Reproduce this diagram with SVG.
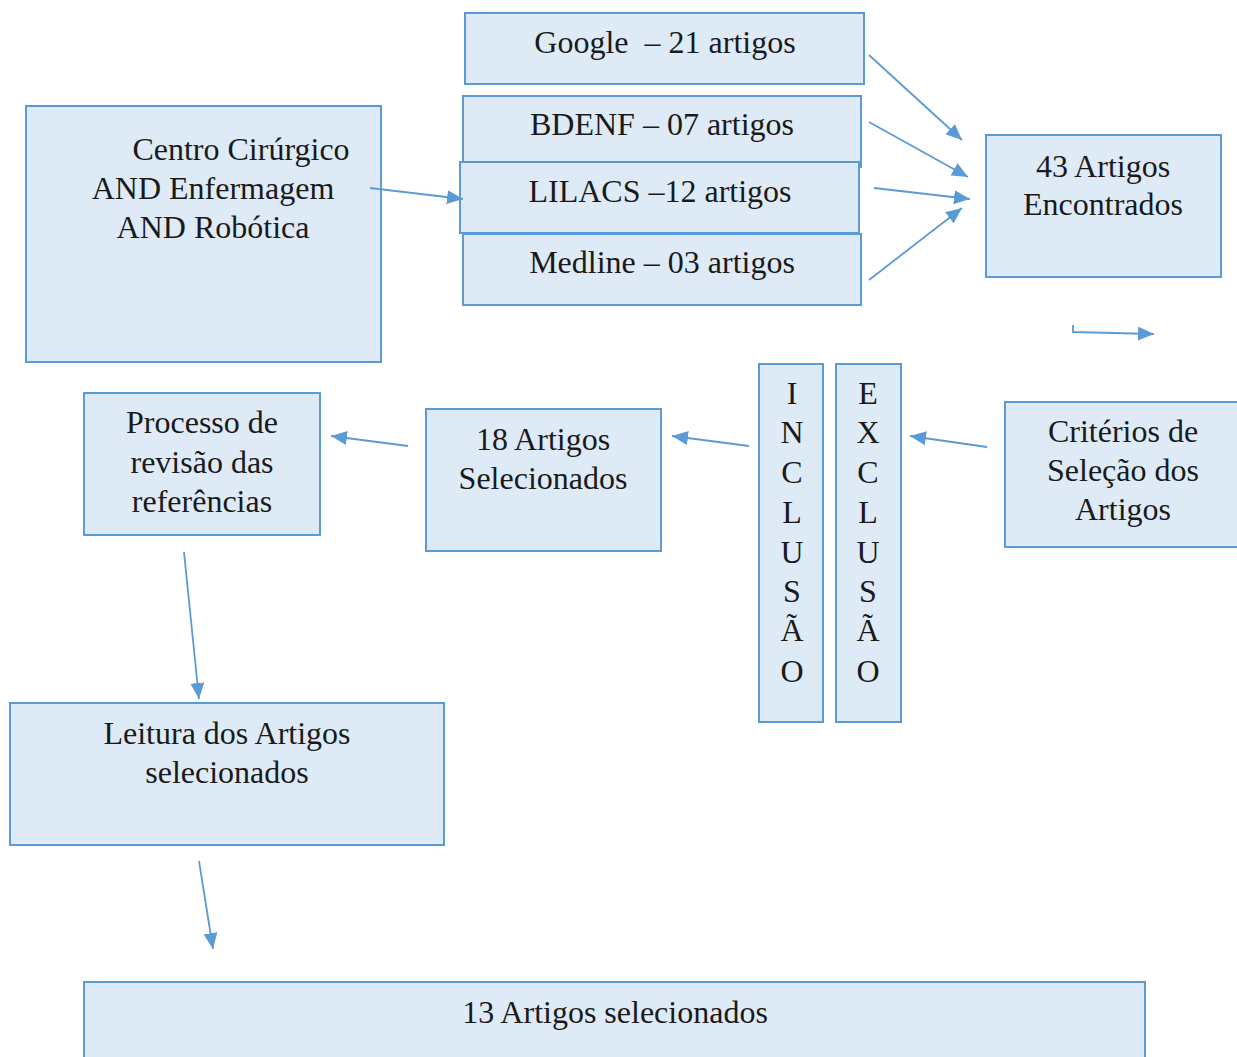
<svg xmlns="http://www.w3.org/2000/svg" width="1237" height="1057" viewBox="0 0 1237 1057">
<style>
.box{fill:#deeaf6;stroke:#5b9bd5;stroke-width:2}
.t{font-family:"Liberation Serif","Times New Roman",serif;font-size:32px;fill:#1a1a1a;text-anchor:middle}
.c{fill:none;stroke:#5b9bd5;stroke-width:1.8}
</style>
<defs>
<marker id="ah" viewBox="0 0 16 14" refX="16" refY="7" markerWidth="16" markerHeight="14" markerUnits="userSpaceOnUse" orient="auto">
<path d="M0,0 L16,7 L0,14 Z" fill="#5b9bd5"/>
</marker>
</defs>
<rect width="1237" height="1057" fill="#ffffff"/>
<g id="google"><rect class="box" x="465" y="13" width="399" height="71"/><text class="t" x="665" y="53" xml:space="preserve">Google  – 21 artigos</text></g>
<g id="bdenf"><rect class="box" x="463" y="96" width="398" height="71"/><text class="t" x="662" y="135">BDENF – 07 artigos</text></g>
<g id="lilacs"><rect class="box" x="460" y="162" width="399" height="71"/><text class="t" x="660" y="202">LILACS –12 artigos</text></g>
<g id="medline"><rect class="box" x="463" y="234" width="398" height="71"/><text class="t" x="662" y="273">Medline – 03 artigos</text></g>
<g id="centro"><rect class="box" x="26" y="106" width="355" height="256"/>
<text class="t" x="241" y="160">Centro Cirúrgico</text>
<text class="t" x="213" y="199">AND Enfermagem</text>
<text class="t" x="213" y="238">AND Robótica</text></g>
<g id="encontrados"><rect class="box" x="986" y="135" width="235" height="142"/>
<text class="t" x="1103" y="177">43 Artigos</text>
<text class="t" x="1103" y="215">Encontrados</text></g>
<g id="criterios"><rect class="box" x="1005" y="402" width="240" height="145"/>
<text class="t" x="1123" y="442">Critérios de</text>
<text class="t" x="1123" y="481">Seleção dos</text>
<text class="t" x="1123" y="520">Artigos</text></g>
<g id="exclusao"><rect class="box" x="836" y="364" width="65" height="358"/>
<text class="t" x="868" y="404">E</text><text class="t" x="868" y="443">X</text><text class="t" x="868" y="483">C</text><text class="t" x="868" y="523">L</text><text class="t" x="868" y="563">U</text><text class="t" x="868" y="602">S</text><text class="t" x="868" y="641">Ã</text><text class="t" x="868" y="682">O</text></g>
<g id="inclusao"><rect class="box" x="759" y="364" width="64" height="358"/>
<text class="t" x="792" y="404">I</text><text class="t" x="792" y="443">N</text><text class="t" x="792" y="483">C</text><text class="t" x="792" y="523">L</text><text class="t" x="792" y="563">U</text><text class="t" x="792" y="602">S</text><text class="t" x="792" y="641">Ã</text><text class="t" x="792" y="682">O</text></g>
<g id="selecionados18"><rect class="box" x="426" y="409" width="235" height="142"/>
<text class="t" x="543" y="450">18 Artigos</text>
<text class="t" x="543" y="489">Selecionados</text></g>
<g id="processo"><rect class="box" x="84" y="393" width="236" height="142"/>
<text class="t" x="202" y="433">Processo de</text>
<text class="t" x="202" y="473">revisão das</text>
<text class="t" x="202" y="512">referências</text></g>
<g id="leitura"><rect class="box" x="10" y="703" width="434" height="142"/>
<text class="t" x="227" y="744">Leitura dos Artigos</text>
<text class="t" x="227" y="783">selecionados</text></g>
<g id="final13"><rect class="box" x="84" y="982" width="1061" height="90"/>
<text class="t" x="615" y="1023">13 Artigos selecionados</text></g>
<g id="connectors">
<line class="c" x1="370" y1="188" x2="463" y2="199" marker-end="url(#ah)"/>
<line class="c" x1="869" y1="55" x2="962" y2="140" marker-end="url(#ah)"/>
<line class="c" x1="869" y1="122" x2="968" y2="177" marker-end="url(#ah)"/>
<line class="c" x1="874" y1="188" x2="970" y2="199" marker-end="url(#ah)"/>
<line class="c" x1="869" y1="280" x2="962" y2="208" marker-end="url(#ah)"/>
<polyline class="c" points="1073,325 1073,332 1154,334" marker-end="url(#ah)"/>
<line class="c" x1="987" y1="447" x2="910" y2="436" marker-end="url(#ah)"/>
<line class="c" x1="749" y1="446" x2="672" y2="436" marker-end="url(#ah)"/>
<line class="c" x1="408" y1="446" x2="331" y2="436" marker-end="url(#ah)"/>
<line class="c" x1="184" y1="552" x2="199" y2="699" marker-end="url(#ah)"/>
<line class="c" x1="199" y1="861" x2="213" y2="949" marker-end="url(#ah)"/>
</g>
</svg>
